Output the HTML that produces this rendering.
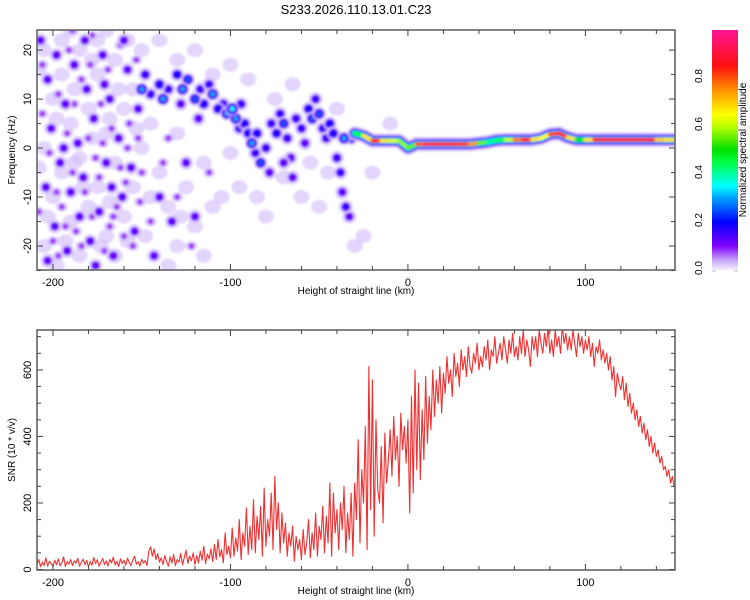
<!DOCTYPE html>
<html><head><meta charset="utf-8">
<style>
html,body{margin:0;padding:0;background:#fff;}
svg{display:block;font-family:"Liberation Sans",sans-serif;}
</style></head>
<body>
<svg id="chart" width="750" height="600" viewBox="0 0 750 600" xmlns="http://www.w3.org/2000/svg">
<defs>
<filter id="blur" x="-10%" y="-10%" width="120%" height="120%"><feGaussianBlur stdDeviation="1.1"/></filter>
<clipPath id="topclip"><rect x="37" y="30" width="638" height="240"/></clipPath>
<clipPath id="botclip"><rect x="37" y="330" width="638" height="240"/></clipPath>
<linearGradient id="cbgrad" x1="0" y1="1" x2="0" y2="0">
<stop offset="0" stop-color="#f4eefe"/>
<stop offset="0.04" stop-color="#c8a8f8"/>
<stop offset="0.1" stop-color="#8000ff"/>
<stop offset="0.2" stop-color="#0000ff"/>
<stop offset="0.3" stop-color="#00a0ff"/>
<stop offset="0.35" stop-color="#00ffff"/>
<stop offset="0.45" stop-color="#00ff40"/>
<stop offset="0.5" stop-color="#00e000"/>
<stop offset="0.6" stop-color="#c0ff00"/>
<stop offset="0.65" stop-color="#ffff00"/>
<stop offset="0.75" stop-color="#ff9000"/>
<stop offset="0.85" stop-color="#ff1010"/>
<stop offset="1" stop-color="#ff1493"/>
</linearGradient>
</defs>
<text x="356" y="14" font-size="13" text-anchor="middle" fill="#000">S233.2026.110.13.01.C23</text>
<g id="topPanel"></g>
<g id="botPanel"></g>
<g id="cbPanel"></g>
</svg>
<script>
// ---- data ----
const xDomain = [-209, 150.5];
const fDomain = [-24.9, 24.1];
const snrDomain = [0, 720];
const xTicks = [-200, -100, 0, 100];
const fTicks = [-20, -10, 0, 10, 20];
const snrTicks = [0, 200, 400, 600];
const cbTicks = [0.0, 0.2, 0.4, 0.6, 0.8];
const cbTickLabels = ["0.0", "0.2", "0.4", "0.6", "0.8"];

const snrStart = -209;
const snrValues = [
15,30,8,22,12,35,10,25,18,9,
28,14,32,11,20,38,9,24,16,30,
12,26,19,34,10,22,31,14,27,8,
24,13,36,18,29,10,22,33,15,26,
11,30,20,37,14,25,9,32,18,28,
13,34,21,12,29,40,16,24,10,31,
19,27,12,55,68,40,62,30,48,22,
35,15,42,24,10,38,20,45,12,30,
22,48,14,36,58,18,40,26,50,15,
42,20,55,28,70,18,46,32,62,24,
75,30,90,38,60,20,110,45,70,35,
125,40,95,55,150,30,110,70,185,45,
130,60,210,50,160,90,190,40,245,70,
150,100,230,60,280,120,200,50,170,80,
140,40,110,70,130,25,100,60,90,30,
120,45,80,150,35,110,60,170,40,130,
90,190,50,160,80,260,40,230,110,180,
60,200,120,250,50,170,90,230,40,260,
150,390,80,300,200,430,60,610,180,570,
100,450,240,200,370,140,410,260,330,420,
280,460,330,400,250,470,360,430,320,450,
170,520,230,600,300,560,270,480,330,580,
380,520,420,600,460,570,500,610,470,590,
530,640,560,600,520,650,580,620,550,660,
600,640,580,670,610,590,650,620,680,600,
640,610,670,630,690,600,660,640,700,620,
650,680,630,700,660,620,690,650,710,640,
670,630,700,650,720,640,690,660,610,700,
660,700,640,720,680,650,710,670,730,650,
690,640,720,670,700,650,730,680,710,660,
700,660,720,680,640,710,670,700,650,690,
660,700,640,680,610,670,650,690,630,660,
620,650,600,640,570,610,520,590,560,540,
580,510,560,490,530,470,500,450,480,430,
460,410,440,390,420,370,400,350,380,340,
360,320,340,300,310,280,300,260,280,250];

const ridgeX = [-30,-25,-20,-15,-10,-5,0,5,10,15,20,25,30,35,40,45,50,55,60,65,70,75,80,85,90,95,100,105,110,115,120,125,130,135,140,145,150];
const ridgeF = [3,2.5,1.5,1.5,1.5,1.5,0,0.8,0.8,0.8,0.8,0.8,0.8,0.8,1,1.2,1.6,1.7,1.7,1.7,1.7,2,2.8,3,2.2,1.7,1.7,1.7,1.7,1.7,1.7,1.7,1.7,1.7,1.7,1.7,1.7];
const ridgeA = [0.4,0.5,0.85,0.85,0.5,0.75,0.4,0.7,0.9,0.9,0.9,0.9,0.85,0.8,0.7,0.4,0.4,0.5,0.7,0.85,0.85,0.5,0.8,0.85,0.85,0.5,0.5,0.85,0.9,0.9,0.9,0.9,0.9,0.9,0.9,0.5,0.85];

const blobX = [
-205,-200,-205,-200,-205,-195,-190,-195,-190,-195,-185,-180,-185,-180,-185,-175,-170,-175,-170,-175,-165,-160,-165,-160,-165,-155,-155,-150,-148,-140,-135,-130,-125,-120,-145,-130,-115,-110,-100,-95,-85,-70,-60,-50,-45,-30,-120,-140,-110,-90,-75,-40,-20,-10,
-208,-203,-198,-193,-188,-183,-178,-173,-168,-163,-158,-153,-208,-198,-188,-178,-168,-158,-190,-170,-150,-145,-128,-135,-115,-105,-80,-55,-25,-65,-100,-130,
-206,-202,-200,-197,-195,-192,-191,-189,-187,-184,-182,-180,-178,-176,-173,-171,-169,-167,-164,-162,-159,-157,-155,-153,-151,-206,-198,-188,-178,-168,-158,-150,-145,-138,-130,-122,-112,-135,-197,-184,-172,-162,-208,-179,-189,-166,-152,-160,-193,-174,
-207,-203,-198,-201,-196,-204,-199,-203,-193,-190,-188,-186,-183,-181,-179,-177,-174,-172,-170,-168,-166,-163,-161,-158,-156,-154,-152,-185,-176,-192,-160,-171,-194,-182,-167,-140,-133,-125,-143,-120,
-150,-148,-145,-140,-138,-135,-130,-127,-124,-120,-117,-115,-112,-110,-107,-104,-102,-99,-97,-95,-92,-90,-88,-86,-85,-83,-80,-78,-77,-74,-72,-70,-68,-66,-65,-63,-60,-58,-56,-54,-52,-50,-48,-46,-44,-42,-40,-38,-37,-35,-33,-36,-32,-70,-94,-118,-128];
const blobF = [
20,10,0,-10,-20,15,5,-5,-15,22,20,8,-2,-12,-22,15,3,-8,-18,22,18,8,-3,-14,-22,12,-8,0,-18,-5,-12,-20,-8,-16,5,3,-3,-12,-1,-8,-10,-6,-10,-12,-5,-20,20,22,15,14,10,8,-5,5,
16,-14,6,-19,12,-8,2,-20,-11,12,-19,4,-4,-24,-3,18,6,22,24,24,20,-10,-14,-24,-22,-10,-14,-3,-18,13,17,18,
17,-1,-19,11,-12,3,20,-5,-17,14,-9,2,23,-2,9,-21,16,4,-12,21,-7,5,-20,18,-11,7,-9,9,-14,-16,0,-5,-15,-3,-10,-20,-5,2,-22,-20,1,-4,-13,17,24,-14,2,-18,-16,-6,
22,14,19,4,-3,-8,-16,-23,9,-9,17,1,-6,12,-19,6,-13,19,-3,10,-22,2,-10,16,-4,-17,8,-14,-24,-21,22,13,0,22,-8,-10,-15,-3,-22,-14,
12,15,11,13,10,12,15,12,14,10,12,9,13,11,8,9,7,8,6,4,5,3,1,-1,3,-3,0,-5,5,3,7,5,2,-2,-6,6,4,1,8,6,10,7,4,2,5,3,-2,-5,-9,-12,-14,2,2,-3,9,6,9];
const blobA = [
0.04,0.04,0.04,0.04,0.04,0.04,0.04,0.04,0.04,0.04,0.04,0.04,0.04,0.04,0.04,0.04,0.04,0.04,0.04,0.04,0.04,0.04,0.04,0.04,0.04,0.04,0.04,0.04,0.04,0.04,0.04,0.04,0.04,0.04,0.04,0.04,0.04,0.04,0.04,0.04,0.04,0.04,0.04,0.04,0.04,0.04,0.04,0.04,0.04,0.04,0.04,0.04,0.04,0.04,
0.04,0.04,0.04,0.04,0.04,0.04,0.04,0.04,0.04,0.04,0.04,0.04,0.04,0.04,0.04,0.04,0.04,0.04,0.04,0.04,0.04,0.04,0.04,0.04,0.04,0.04,0.04,0.04,0.04,0.04,0.04,0.04,
0.08,0.08,0.08,0.08,0.08,0.08,0.08,0.08,0.08,0.08,0.08,0.08,0.08,0.08,0.08,0.08,0.08,0.08,0.08,0.08,0.08,0.08,0.08,0.08,0.08,0.08,0.08,0.08,0.08,0.08,0.08,0.08,0.08,0.08,0.08,0.08,0.08,0.08,0.08,0.08,0.08,0.08,0.08,0.08,0.08,0.08,0.08,0.08,0.08,0.08,
0.12,0.12,0.12,0.12,0.12,0.12,0.12,0.12,0.12,0.12,0.12,0.12,0.12,0.12,0.12,0.12,0.12,0.12,0.12,0.12,0.12,0.12,0.12,0.12,0.12,0.12,0.12,0.12,0.12,0.12,0.12,0.12,0.12,0.12,0.12,0.12,0.12,0.12,0.12,0.12,
0.3,0.15,0.15,0.2,0.3,0.15,0.2,0.3,0.25,0.25,0.15,0.2,0.15,0.3,0.2,0.15,0.3,0.35,0.3,0.15,0.2,0.2,0.3,0.15,0.2,0.25,0.15,0.12,0.15,0.2,0.15,0.25,0.15,0.12,0.12,0.15,0.15,0.12,0.2,0.25,0.15,0.25,0.15,0.15,0.2,0.2,0.15,0.15,0.12,0.15,0.12,0.3,0.25,0.12,0.15,0.12,0.12];

// ---- helpers ----
const NS = "http://www.w3.org/2000/svg";
const L = 37, R = 675;
function sx(v){ return L + (v - xDomain[0]) / (xDomain[1] - xDomain[0]) * (R - L); }
function sf(v){ return 270 - (v - fDomain[0]) / (fDomain[1] - fDomain[0]) * 240; }
function ss(v){ return 569.5 - (v - snrDomain[0]) / (snrDomain[1] - snrDomain[0]) * 239.5; }
function mk(tag, attrs, parent){ const e = document.createElementNS(NS, tag); for (const k in attrs) e.setAttribute(k, attrs[k]); parent.appendChild(e); return e; }
const cmapStops = [[0,[244,238,254]],[0.04,[212,190,250]],[0.1,[128,0,255]],[0.2,[0,0,255]],[0.3,[0,160,255]],[0.35,[0,255,255]],[0.45,[0,255,64]],[0.5,[0,224,0]],[0.6,[192,255,0]],[0.65,[255,255,0]],[0.75,[255,144,0]],[0.85,[255,16,16]],[1,[255,20,147]]];
function cmap(a){
  for (let i=1;i<cmapStops.length;i++){
    if (a <= cmapStops[i][0]){
      const a0=cmapStops[i-1][0], c0=cmapStops[i-1][1], a1=cmapStops[i][0], c1=cmapStops[i][1]; const t=(a-a0)/(a1-a0);
      return "rgb("+c0.map((c,j)=>Math.round(c+(c1[j]-c)*t)).join(",")+")";
    }
  }
  return "rgb(255,20,147)";
}

function frame(g, y0, y1, yTicksArr, yScale, yMinorStep, yMin, yMax, yLabel, yLabelCenter){
  mk("rect",{x:L,y:y0,width:R-L,height:y1-y0,fill:"none",stroke:"#666","stroke-width":1.6},g);
  const tg = mk("g",{},g);
  
  
  for (let v=-200; v<=150; v+=20){
    const x=sx(v), big=(v%100===0), len=big?6:4;
    mk("line",{x1:x,y1:y1,x2:x,y2:y1-len,stroke:"#444","stroke-width":1},tg);
    mk("line",{x1:x,y1:y0,x2:x,y2:y0+len,stroke:"#444","stroke-width":1},tg);
  }
  xTicks.forEach(v=>{
    const t = mk("text",{x:sx(v),y:y1+16,"font-size":11,"text-anchor":"middle",fill:"#000"},g);
    
    
    t.textContent = String(v);
  });
  const xt = mk("text",{x:356,y:y1+24,"font-size":10,"text-anchor":"middle",fill:"#000"},g);
  
  
  xt.textContent = "Height of straight line (km)";
  for (let v=Math.ceil(yMin/yMinorStep)*yMinorStep; v<=yMax; v+=yMinorStep){
    const y=yScale(v), big=yTicksArr.includes(v), len=big?6:4;
    mk("line",{x1:L,y1:y,x2:L+len,y2:y,stroke:"#444","stroke-width":1},tg);
    mk("line",{x1:R,y1:y,x2:R-len,y2:y,stroke:"#444","stroke-width":1},tg);
  }
  yTicksArr.forEach(v=>{
    const y=yScale(v);
    const t = mk("text",{x:0,y:0,"font-size":11,"text-anchor":"middle",fill:"#000",transform:"translate(31,"+y+") rotate(-90)"},g);
    
    
    t.textContent = String(v);
  });
  const yt = mk("text",{x:0,y:0,"font-size":10,"text-anchor":"middle",fill:"#000",transform:"translate(15,"+yLabelCenter+") rotate(-90)"},g);
  
  
  yt.textContent = yLabel;
}

// ---- top spectrogram ----
const topG = document.getElementById("topPanel");
const hm = mk("g",{"clip-path":"url(#topclip)"},topG);
const hb = mk("g",{filter:"url(#blur)"},hm);
const order = blobA.map((a,i)=>i).sort((i,j)=>blobA[i]-blobA[j]);
order.forEach(i=>{
  const a = blobA[i], cx = sx(blobX[i]), cy = sf(blobF[i]);
  if (a < 0.06){
    const c = mk("ellipse",{cx:cx,cy:cy,rx:8,ry:7,fill:cmap(0.04),opacity:0.65},hb);
    
    
  } else if (a < 0.1){
    mk("ellipse",{cx:cx,cy:cy,rx:6,ry:5,fill:cmap(0.04),opacity:0.75},hb);
    const c = mk("ellipse",{cx:cx,cy:cy,rx:3,ry:3,fill:cmap(a)},hb);
    
    
  } else {
    mk("ellipse",{cx:cx,cy:cy,rx:7,ry:7,fill:cmap(0.04),opacity:0.8},hb);
    const c = mk("ellipse",{cx:cx,cy:cy,rx:3.5+a*6,ry:3.5+a*6,fill:cmap(Math.min(a,0.14))},hb);
    
    
    if (a > 0.14){
      mk("ellipse",{cx:cx,cy:cy,rx:2.5,ry:2.5,fill:cmap(a)},hb);
    }
  }
});
const ridgeLayers = [[0.04,14],[0.12,10],[0.2,8],[0.33,6]];
ridgeLayers.forEach(layer=>{
  const pts = ridgeX.map((x,i)=>sx(x)+","+sf(ridgeF[i])).join(" ");
  const p = mk("polyline",{points:pts,fill:"none",stroke:cmap(layer[0]),"stroke-width":layer[1],"stroke-linecap":"round","stroke-linejoin":"round"},hb);
  
  
});
for (let i=0;i<ridgeX.length-1;i++){
  const a = (ridgeA[i]+ridgeA[i+1])/2;
  const s = mk("line",{x1:sx(ridgeX[i]),y1:sf(ridgeF[i]),x2:sx(ridgeX[i+1]),y2:sf(ridgeF[i+1]),stroke:cmap(a),"stroke-width":4,"stroke-linecap":"round"},hb);
  
  
}
frame(topG,30,270,fTicks,sf,5,-25,24,"Frequency (Hz)",150);

// ---- bottom SNR ----
const botG = document.getElementById("botPanel");
const lg = mk("g",{"clip-path":"url(#botclip)"},botG);
const snrPts = snrValues.map((v,i)=>sx(snrStart+i).toFixed(2)+","+ss(v).toFixed(2)).join(" ");
const snrLine = mk("polyline",{points:snrPts,fill:"none",stroke:"#f03030","stroke-width":1.1,"stroke-linejoin":"round"},lg);


frame(botG,330,570,snrTicks,ss,50,0,720,"SNR (10 * v/v)",450);

// ---- colorbar ----
const cbG = document.getElementById("cbPanel");
const cbTop=30, cbBot=270;
const cr = mk("rect",{x:712,y:cbTop,width:26,height:cbBot-cbTop,fill:"url(#cbgrad)"},cbG);


cbTicks.forEach((v,i)=>{
  const y = cbBot - v/1.0*(cbBot-cbTop) - 2;
  const t = mk("text",{x:0,y:0,"font-size":10,"text-anchor":"middle",fill:"#000",transform:"translate(702,"+y+") rotate(-90)"},cbG);
  
  
  t.textContent = cbTickLabels[i];
});
mk("line",{x1:712,y1:271,x2:716,y2:271,stroke:"#bbb"},cbG);
mk("line",{x1:734,y1:271,x2:738,y2:271,stroke:"#bbb"},cbG);
const ct = mk("text",{x:0,y:0,"font-size":10,"text-anchor":"middle",fill:"#000",transform:"translate(746,150) rotate(-90)"},cbG);


ct.textContent = "Normalized spectral amplitude";
</script>
</body></html>
